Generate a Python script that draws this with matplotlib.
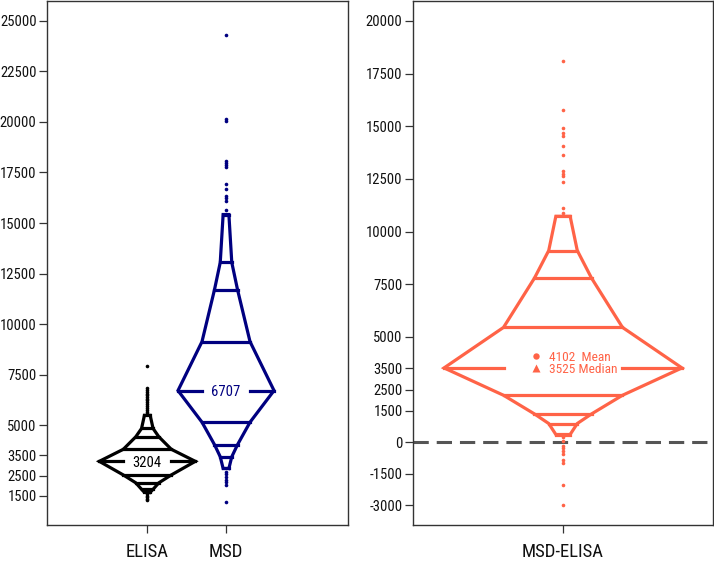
import matplotlib
matplotlib.use('Agg')
import matplotlib.pyplot as plt
from matplotlib import font_manager

# pick a narrow sans font if one is installed, otherwise a regular one
ttf = font_manager.fontManager.ttflist
names = {f.name for f in ttf}
narrow = None
for cand in ['Liberation Sans Narrow', 'Arial Narrow', 'Roboto Condensed', 'Open Sans Condensed',
             'Noto Sans Condensed', 'DejaVu Sans Condensed']:
    if cand in names:
        narrow = cand
        break
STRETCH = 'normal'
if narrow is None:
    cond = [f for f in ttf if f.stretch in ('condensed', 'semi-condensed', 'extra-condensed')
            and 'Mono' not in f.name and 'Serif' not in f.name]
    if cond:
        narrow = cond[0].name
        STRETCH = cond[0].stretch
if narrow is None:
    narrow = 'Liberation Sans'
    SCALE = 0.86
else:
    SCALE = 1.0
plt.rcParams['font.family'] = [narrow, 'DejaVu Sans']
plt.rcParams['font.stretch'] = STRETCH

# ---------------- data ----------------
left_labels = ['ELISA', 'MSD']
right_label = 'MSD-ELISA'

elisa_median = 3204
elisa_upper = [3800, 4420, 4830, 5480]
elisa_lower = [2530, 2140, 1820, 1670]
elisa_outliers = [7930, 6810, 6720, 6640, 6560, 6470, 6390, 6300, 6230, 6130,
                  6030, 5930, 5820, 5730, 5650, 5570,
                  1590, 1510, 1430, 1360, 1290]

msd_median = 6707
msd_upper = [9130, 11700, 13050, 15420]
msd_lower = [5140, 4030, 3430, 2850]
msd_outliers = [15650, 16100, 16230, 16360, 16700, 16950, 17750, 17850, 17960, 18070,
                20030, 20140, 24290,
                2690, 2560, 2430, 2300, 2170, 2040, 1170]

diff_median = 3525
diff_mean = 4102
diff_upper = [5450, 7790, 9100, 10725]
diff_lower = [2227, 1341, 885, 364]
diff_outliers = [10880, 11140, 12370, 12620, 12730, 12860, 13640, 14040, 14560, 14660,
                 14900, 15750, 18100,
                 250, 60, -180, -300, -420, -540, -850, -980, -2050, -2980]

left_yticks = [1500, 2500, 3500, 5000, 7500, 10000, 12500, 15000, 17500, 20000, 22500, 25000]
right_yticks = [-3000, -1500, 0, 1500, 2500, 3500, 5000, 7500, 10000, 12500, 15000, 17500, 20000]

# ---------------- styling ----------------
C_ELISA = 'black'
C_MSD = '#000080'
C_DIFF = '#FF6347'
width_fracs = [1.0, 0.5, 0.24, 0.12, 0.06]
LW = 2.3


def letter_value(ax, x, med, upper, lower, outliers, color, half0, label_text=None):
    halves = [half0 * f for f in width_fracs[:len(upper) + 1]]
    ys = lower[::-1] + [med] + upper
    ws = halves[1:][::-1] + [halves[0]] + halves[1:]
    xr = [x + w for w in ws]
    xl = [x - w for w in ws][::-1]
    px = xr + xl + [xr[0]]
    py = ys + ys[::-1] + [ys[0]]
    ax.plot(px, py, color=color, lw=LW, solid_joinstyle='miter', zorder=3)
    for y, w in zip(upper + lower, halves[1:] + halves[1:]):
        ax.plot([x - w, x + w], [y, y], color=color, lw=LW, zorder=3)
    ax.plot([x - halves[0], x - halves[1]], [med, med], color=color, lw=LW, zorder=3)
    ax.plot([x + halves[1], x + halves[0]], [med, med], color=color, lw=LW, zorder=3)
    ax.plot([x] * len(outliers), outliers, 'o', ms=2.6, color=color, mec='none', zorder=3)
    if label_text is not None:
        ax.text(x, med - 60, label_text, color=color, ha='center', va='center',
                fontsize=10.5 * SCALE)


fig = plt.figure(figsize=(7.14, 5.64), dpi=100)
ax1 = fig.add_axes([47 / 714, 39 / 564, 301 / 714, 524 / 564])
ax2 = fig.add_axes([413 / 714, 39 / 564, 300 / 714, 524 / 564])

# left panel
letter_value(ax1, 1, elisa_median, elisa_upper, elisa_lower, elisa_outliers, C_ELISA, 0.61,
             str(elisa_median))
letter_value(ax1, 2, msd_median, msd_upper, msd_lower, msd_outliers, C_MSD, 0.61,
             str(msd_median))
ax1.set_xlim(-0.2745, 3.55)
ax1.set_ylim(53, 25988)
ax1.set_xticks([1, 2])
ax1.set_xticklabels(left_labels)
ax1.set_yticks(left_yticks)
ax1.set_yticklabels([str(v) for v in left_yticks])

# right panel
ax2.axhline(0, color='#555555', lw=2.2, ls=(0, (5, 2.6)), zorder=2)
letter_value(ax2, 1, diff_median, diff_upper, diff_lower, diff_outliers, C_DIFF, 0.793)
ax2.plot([1 - 0.182], [diff_mean], 'o', ms=4.6, color=C_DIFF, mec='none', zorder=4)
ax2.plot([1 - 0.182], [diff_median], '^', ms=5.2, color=C_DIFF, mec='none', zorder=4)
ax2.text(1 - 0.095, diff_mean - 80, f'{diff_mean}  Mean', color=C_DIFF, ha='left', va='center',
         fontsize=9.6 * SCALE)
ax2.text(1 - 0.095, diff_median - 80, f'{diff_median} Median', color=C_DIFF, ha='left',
         va='center', fontsize=9.6 * SCALE)
ax2.set_xlim(0, 2)
ax2.set_ylim(-3933, 20948)
ax2.set_xticks([1])
ax2.set_xticklabels([right_label])
ax2.set_yticks(right_yticks)
ax2.set_yticklabels([str(v) for v in right_yticks])

for ax in (ax1, ax2):
    for s in ax.spines.values():
        s.set_color('#333333')
        s.set_linewidth(1.0)
    ax.tick_params(axis='y', direction='out', length=5.5, width=0.9, color='#333333',
                   labelsize=10.5 * SCALE, pad=2, labelcolor='#111111')
    ax.tick_params(axis='x', direction='out', length=6, width=0.9, color='#333333',
                   labelsize=13.5 * SCALE, pad=7, labelcolor='#111111')

fig.savefig('out.png', dpi=100)
